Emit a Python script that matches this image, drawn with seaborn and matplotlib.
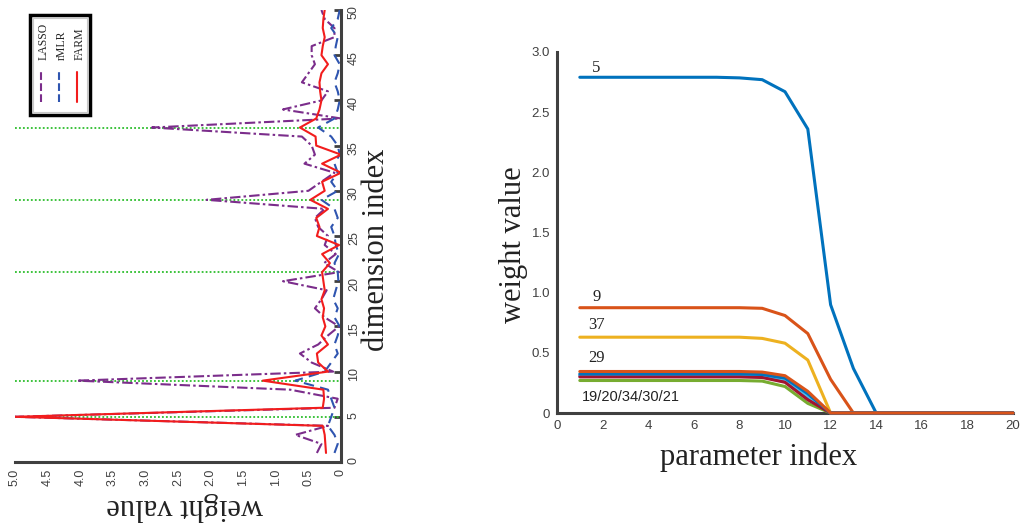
import numpy as np
import pandas as pd
import matplotlib.pyplot as plt
import matplotlib.patches as mpatches
import seaborn as sns

# ---- left panel: weight of each dimension for three methods ----
dims = list(range(1, 51))
lasso = [0.37, 0.30, 0.70, 0.20, 5.00, 0.10, 0.05, 0.78, 4.05, 0.12,
         0.45, 0.63, 0.35, 0.20, 0.03, 0.25, 0.40, 0.30, 0.22, 0.89,
         0.03, 0.26, 0.08, 0.25, 0.20, 0.35, 0.40, 0.25, 2.06, 0.50,
         0.30, 0.10, 0.56, 0.40, 0.45, 0.60, 2.90, 0.00, 0.89, 0.30,
         0.20, 0.60, 0.50, 0.40, 0.45, 0.45, 0.10, 0.10, 0.25, 0.30]
mrmlr = [0.10, 0.05, 0.10, 0.20, 0.15, 0.10, 0.15, 0.20, 0.70, 0.25,
         0.15, 0.05, 0.10, 0.05, 0.02, 0.10, 0.05, 0.12, 0.08, 0.04,
         0.05, 0.10, 0.03, 0.08, 0.10, 0.15, 0.05, 0.10, 0.30, 0.05,
         0.15, 0.05, 0.10, 0.02, 0.05, 0.15, 0.35, 0.10, 0.05, 0.02,
         0.05, 0.10, 0.05, 0.02, 0.10, 0.08, 0.05, 0.15, 0.05, 0.02]
farm = [0.23, 0.24, 0.25, 0.28, 5.00, 0.28, 0.26, 0.27, 1.20, 0.20,
        0.35, 0.37, 0.20, 0.30, 0.24, 0.28, 0.26, 0.30, 0.25, 0.27,
        0.29, 0.17, 0.29, 0.03, 0.37, 0.33, 0.38, 0.20, 0.47, 0.25,
        0.29, 0.00, 0.29, 0.00, 0.38, 0.39, 0.63, 0.38, 0.33, 0.30,
        0.32, 0.33, 0.30, 0.20, 0.30, 0.28, 0.25, 0.28, 0.27, 0.25]
selected = [5, 9, 21, 29, 37]
method_names = ['LASSO', 'rMLR', 'FARM']

# ---- right panel: weight path over parameter index ----
params = list(range(1, 21))
w5 = [2.79, 2.79, 2.79, 2.79, 2.79, 2.79, 2.79, 2.785, 2.77, 2.67, 2.36, 0.90, 0.37, 0, 0, 0, 0, 0, 0, 0]
w9 = [0.875, 0.875, 0.875, 0.875, 0.875, 0.875, 0.875, 0.875, 0.87, 0.81, 0.66, 0.28, 0, 0, 0, 0, 0, 0, 0, 0]
w37 = [0.63, 0.63, 0.63, 0.63, 0.63, 0.63, 0.63, 0.63, 0.62, 0.58, 0.44, 0, 0, 0, 0, 0, 0, 0, 0, 0]
w29 = [0.31, 0.31, 0.31, 0.31, 0.31, 0.31, 0.31, 0.31, 0.305, 0.27, 0.13, 0, 0, 0, 0, 0, 0, 0, 0, 0]
w19 = [0.27, 0.27, 0.27, 0.27, 0.27, 0.27, 0.27, 0.27, 0.265, 0.22, 0.08, 0, 0, 0, 0, 0, 0, 0, 0, 0]
w20 = [0.315, 0.315, 0.315, 0.315, 0.315, 0.315, 0.315, 0.315, 0.31, 0.28, 0.14, 0, 0, 0, 0, 0, 0, 0, 0, 0]
w34 = [0.30, 0.30, 0.30, 0.30, 0.30, 0.30, 0.30, 0.30, 0.295, 0.255, 0.11, 0, 0, 0, 0, 0, 0, 0, 0, 0]
w30 = [0.325, 0.325, 0.325, 0.325, 0.325, 0.325, 0.325, 0.325, 0.32, 0.29, 0.16, 0, 0, 0, 0, 0, 0, 0, 0, 0]
w21 = [0.345, 0.345, 0.345, 0.345, 0.345, 0.345, 0.345, 0.345, 0.34, 0.31, 0.18, 0, 0, 0, 0, 0, 0, 0, 0, 0]
features = ['5', '9', '37', '29', '19', '20', '34', '30', '21']
feature_colors = ['#0072BD', '#D95319', '#EDB120', '#7E2F8E', '#77AC30',
                  '#4DBEEE', '#A2142F', '#0072BD', '#D95319']

sns.set_style('white')
plt.rcParams['font.family'] = ['Liberation Sans', 'DejaVu Sans']
serif = ['Liberation Serif', 'DejaVu Serif']
axis_gray = '#404040'

fig = plt.figure(figsize=(10.26, 5.25), dpi=100)
axL = fig.add_axes([15 / 1026, 63 / 525, 326 / 1026, 452 / 525])
axR = fig.add_axes([557 / 1026, 112 / 525, 456 / 1026, 361 / 525])

# left panel
for d in selected:
    axL.axhline(d, color='#2DBE2D', ls=(0, (1, 1.2)), lw=1.3, zorder=1)
sns.lineplot(x=lasso, y=dims, orient='y', errorbar=None, ax=axL,
             color='#7B2D8B', linestyle=(0, (5, 1.5, 1.2, 1.5)), lw=1.5)
sns.lineplot(x=mrmlr, y=dims, orient='y', errorbar=None, ax=axL,
             color='#2F55B0', linestyle=(0, (5, 3)), lw=1.5)
sns.lineplot(x=farm, y=dims, orient='y', errorbar=None, ax=axL,
             color='#F21D1D', linestyle='-', lw=1.5)
axL.set_xlim(5, 0)
axL.set_ylim(0, 50)
axL.set_xticks(np.arange(0, 5.01, 0.5))
axL.set_xticklabels(['0', '0.5', '1.0', '1.5', '2.0', '2.5', '3.0', '3.5', '4.0', '4.5', '5.0'])
axL.set_yticks(np.arange(0, 51, 5))
axL.yaxis.tick_right()
axL.tick_params(axis='both', direction='in', length=5, width=2, color=axis_gray,
                labelsize=9, labelcolor=axis_gray, labelrotation=90, pad=5)
for s in ['top', 'left']:
    axL.spines[s].set_visible(False)
for s in ['bottom', 'right']:
    axL.spines[s].set_color(axis_gray)
    axL.spines[s].set_linewidth(2.2)
axL.set_xlabel('')
axL.set_ylabel('')
fig.text(185 / 1026, 1 - 507 / 525, 'weight value', rotation=180, ha='center', va='center',
         fontsize=22, family=serif, color='#222222')
fig.text(376 / 1026, 1 - 250 / 525, 'dimension index', rotation=90, ha='center', va='center',
         fontsize=22, family=serif, color='#222222')

# rotated legend box
box = mpatches.Rectangle((0.046, 0.768), 0.184, 0.221, transform=axL.transAxes,
                         fill=False, ec='black', lw=2.5, zorder=5)
inner = mpatches.Rectangle((0.054, 0.775), 0.168, 0.207, transform=axL.transAxes,
                           fill=False, ec='#C8C8C8', lw=0.8, zorder=5)
axL.add_patch(box)
axL.add_patch(inner)
for line, name, xpx in zip(axL.get_lines()[-3:], method_names, [41, 59, 77]):
    xa = (xpx - 15) / 326
    axL.plot([xa, xa], [(462 - 102) / 452, (462 - 72) / 452], transform=axL.transAxes,
             color=line.get_color(), ls=line.get_linestyle(), lw=1.5, zorder=6)
    axL.text(xa + 0.008, (462 - 60) / 452, name, transform=axL.transAxes, rotation=90,
             ha='center', va='bottom', fontsize=8.5, family=serif, zorder=6)

# right panel
path = pd.DataFrame({
    'param': params * len(features),
    'weight': w5 + w9 + w37 + w29 + w19 + w20 + w34 + w30 + w21,
    'feature': [f for f in features for _ in params],
    'run': [i for i in range(len(features)) for _ in params],
})
sns.lineplot(data=path, x='param', y='weight', hue='run', palette=feature_colors,
             errorbar=None, legend=False, ax=axR, lw=2.2, zorder=3)
for ln in axR.get_lines():
    ln.set_clip_on(False)
axR.set_xlim(0, 20)
axR.set_ylim(0, 3.0)
axR.set_xticks(np.arange(0, 21, 2))
axR.set_yticks(np.arange(0, 3.01, 0.5))
axR.set_yticklabels(['0', '0.5', '1.0', '1.5', '2.0', '2.5', '3.0'])
axR.tick_params(axis='both', direction='in', length=5, width=2, color=axis_gray,
                labelsize=9.5, labelcolor=axis_gray, pad=5)
for s in ['top', 'right']:
    axR.spines[s].set_visible(False)
for s in ['bottom', 'left']:
    axR.spines[s].set_color(axis_gray)
    axR.spines[s].set_linewidth(2.2)
axR.set_xlabel('')
axR.set_ylabel('')
fig.text(514 / 1026, 1 - 245 / 525, 'weight value', rotation=90, ha='center', va='center',
         fontsize=22, family=serif, color='#222222')
fig.text(759 / 1026, 1 - 457 / 525, 'parameter index', ha='center', va='center',
         fontsize=22, family=serif, color='#222222')

axR.text(1.7, 2.87, '5', ha='center', va='center', fontsize=12, family=serif, color='#222222')
axR.text(1.75, 0.96, '9', ha='center', va='center', fontsize=12, family=serif, color='#222222')
axR.text(1.75, 0.73, '37', ha='center', va='center', fontsize=12, family=serif, color='#222222')
axR.text(1.75, 0.46, '29', ha='center', va='center', fontsize=12, family=serif, color='#222222')
axR.text(1.1, 0.13, '19/20/34/30/21', ha='left', va='center', fontsize=10.5, color='#222222')

fig.savefig('out.png', dpi=100)
